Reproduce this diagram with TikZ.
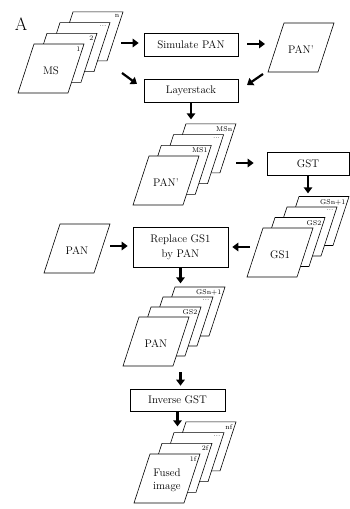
\documentclass[tikz,border=0pt]{standalone}
\usetikzlibrary{arrows.meta}
\tikzset{
  sheetsty/.style={draw=black, fill=white, line width=0.6pt, line join=miter},
  lbl/.style={anchor=north east, inner sep=0pt, font=\fontsize{7}{8}\selectfont},
  ctr/.style={align=center, inner sep=0pt, font=\fontsize{11}{13}\selectfont},
  boxsty/.style={draw=black, fill=white, line width=0.6pt, rectangle, align=center, inner sep=1pt, font=\fontsize{11}{15}\selectfont},
  arr/.style={line width=2.2pt, -{Triangle[length=6pt,width=8.5pt]}},
}
\newcommand\sheetat[5]{%
  \filldraw[sheetsty] (#2,#3) -- ++(16,-49) -- ++(50,0) -- ++(-16,49) -- cycle;
  \node[lbl] (#1-l) at ({#2+62.5},{#3-46.5}) {#4};
  \node[ctr] (#1-c) at ({#2+33},{#3-22.5}) {#5};
}
\begin{document}
\begin{tikzpicture}[x=1pt,y=-1pt]
\useasboundingbox (0,0) rectangle (350,509);
% title
\node[inner sep=0pt, font=\fontsize{18}{18}\selectfont] (title) at (21,24) {A};
% MS stack
\sheetat{ms4}{57}{60.9}{n}{}
\sheetat{ms3}{44}{71.6}{...}{}
\sheetat{ms2}{31}{82.3}{2}{}
\sheetat{ms1}{18}{93}{1}{MS}
% boxes
\node[boxsty, minimum width=94pt, minimum height=23pt] (sim) at (191,44.5) {Simulate PAN};
\node[boxsty, minimum width=94pt, minimum height=23pt] (lay) at (191,90.5) {Layerstack};
\node[boxsty, minimum width=82pt, minimum height=23pt] (gst) at (308,163.5) {GST};
\node[boxsty, minimum width=95pt, minimum height=40pt] (rep) at (180.5,247) {Replace GS1\\by PAN};
\node[boxsty, minimum width=95pt, minimum height=22pt] (inv) at (177.5,400) {Inverse GST};
% single PAN'
\sheetat{panp}{268}{72}{}{PAN'}
% PAN' stack
\sheetat{ps4}{169.9}{172.9}{MSn}{}
\sheetat{ps3}{157.6}{183.6}{...}{}
\sheetat{ps2}{145.3}{194.3}{MS1}{}
\sheetat{ps1}{133}{205}{}{PAN'}
% GS stack
\sheetat{gs4}{283}{245.5}{GSn+1}{}
\sheetat{gs3}{271}{256}{...}{}
\sheetat{gs2}{259}{266.5}{GS2}{}
\sheetat{gs1}{247}{277}{}{GS1}
% single PAN
\sheetat{pan}{44}{273}{}{PAN}
% PAN stack
\sheetat{pk4}{159}{336}{GSn+1}{}
\sheetat{pk3}{147}{346}{...}{}
\sheetat{pk2}{135}{356}{GS2}{}
\sheetat{pk1}{123}{366}{}{PAN}
% Fused stack
\sheetat{fu4}{170}{470.9}{nf}{}
\sheetat{fu3}{158}{481.6}{...}{}
\sheetat{fu2}{146}{492.3}{2f}{}
\sheetat{fu1}{134}{503}{1f}{Fused\\image}
% arrow ends
\coordinate (a1) at (121,43);
\coordinate (a2) at (122,73);  \coordinate (a2e) at (137,84);
\coordinate (a3) at (247,44);  \coordinate (a3e) at (265,44);
\coordinate (a4) at (263,74);  \coordinate (a4e) at (247,85);
\coordinate (a6) at (236,163);
\coordinate (a8) at (250,247);
\coordinate (a9) at (110,246);
% arrows
\draw[arr, shorten >=5pt] (a1) -- (sim.west |- a1);
\draw[arr] (a2) -- (a2e);
\draw[arr] (a3) -- (a3e);
\draw[arr] (a4) -- (a4e);
\draw[arr, shorten >=1pt] (lay.south) -- ++(0,18);
\draw[arr, shorten >=13pt] (a6) -- (gst.west |- a6);
\draw[arr, shorten >=1pt] (gst.south) -- ++(0,19);
\draw[arr, shorten >=4pt] (a8) -- (rep.east |- a8);
\draw[arr, shorten >=5pt] (a9) -- (rep.west |- a9);
\draw[arr, shorten >=1pt] (rep.south) -- ++(0,17);
\coordinate (a11) at (rep.south |- 0,372);
\draw[arr, shorten >=3pt] (a11) -- (a11 |- inv.north);
\draw[arr, shorten >=1pt] (inv.south) -- ++(0,16);
\end{tikzpicture}
\end{document}
